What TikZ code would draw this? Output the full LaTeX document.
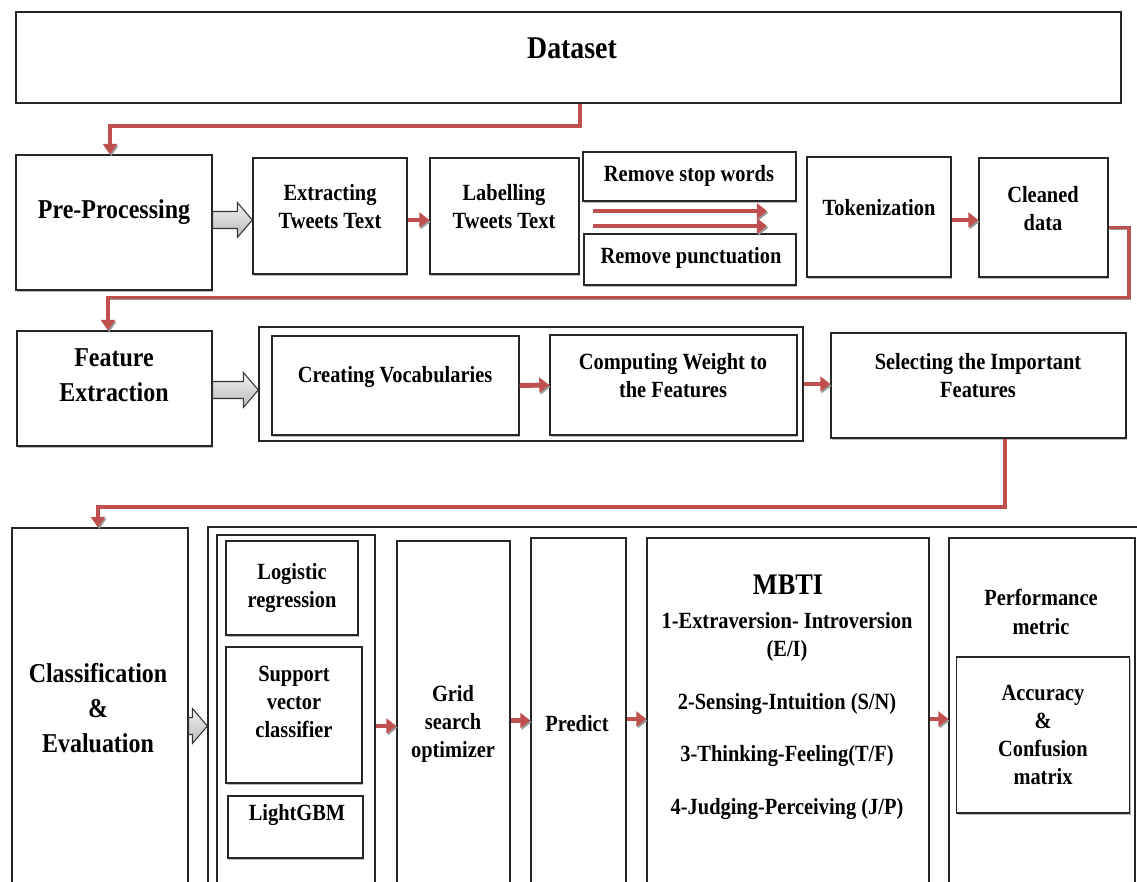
\documentclass[tikz,border=0pt]{standalone}
\usepackage{fontspec}
\setmainfont{Liberation Serif}[FakeStretch=0.88]
\usepackage{tikz}
\usetikzlibrary{arrows.meta,shadows,calc}
\definecolor{flowred}{RGB}{192,80,77}
\tikzset{box style/.style={
		draw=black!85,
		line width=0.8pt,
		fill=white,
		rectangle,
		inner sep=0pt,
		drop shadow={shadow xshift=0.7pt,shadow yshift=-1.4pt,fill=black!45,opacity=0.6},
	},
	group style/.style={
		draw=black!85,
		line width=0.8pt,
		fill=white,
		rectangle,
		inner sep=0pt,
	},
	text style/.style={
		align=center,
		font=\bfseries\fontsize{13.2}{16}\selectfont,
	},
	big style/.style={
		align=center,
		font=\bfseries\fontsize{15.5}{19.8}\selectfont,
	},
	flow style/.style={
		draw=flowred,
		line width=2.2pt,
		-{Triangle[width=8pt,length=6pt]},
		preaction={draw=black!40,transform canvas={xshift=0.7pt,yshift=-1pt}},
	},
	link style/.style={
		flow style,
		line width=2.8pt,
		-{Triangle[width=8.5pt,length=5.7pt]},
	},
	hollow style/.style={
		draw=black!80,
		line width=0.6pt,
		top color=gray!10,
		bottom color=gray!55,
		to path={($(\tikztostart)+(0,-8.5)$) -- ($(\tikztotarget)+(-15,-8.5)$) -- ($(\tikztotarget)+(-15,-17.5)$) -- (\tikztotarget) -- ($(\tikztotarget)+(-15,17.5)$) -- ($(\tikztotarget)+(-15,8.5)$) -- ($(\tikztostart)+(0,8.5)$) -- cycle}
	}
}

\begin{document}
\begin{tikzpicture}[x=0.02cm,y=-0.02cm]
	\useasboundingbox (0,0) rectangle (1137,882);
	\clip (0,0) rectangle (1137,882);

	\node[group style, minimum width=22.1cm, minimum height=1.82cm] (Dataset) at (568.5,57.5) {};
	\node[font=\bfseries\fontsize{18}{22}\selectfont] (DatasetText) at (572,48) {Dataset};

	\node[box style, minimum width=3.92cm, minimum height=2.7cm] (PreProcessing) at (114,222.5) {};
	\node[big style] (PreProcessingText) at (114,212) {Pre-Processing};

	\node[box style, minimum width=3.08cm, minimum height=2.32cm] (Extracting) at (330,216) {};
	\node[text style] (ExtractingText) at (330,207) {Extracting\\Tweets Text};

	\node[box style, minimum width=2.98cm, minimum height=2.32cm] (Labelling) at (504.5,216) {};
	\node[text style] (LabellingText) at (504,207) {Labelling\\Tweets Text};

	\node[box style, minimum width=4.26cm, minimum height=0.98cm] (StopWords) at (689.5,176.5) {};
	\node[text style] (StopWordsText) at (689,176) {Remove stop words};

	\node[box style, minimum width=4.24cm, minimum height=1.02cm] (Punctuation) at (690,259.5) {};
	\node[text style] (PunctuationText) at (691,258) {Remove punctuation};

	\node[box style, minimum width=2.88cm, minimum height=2.4cm] (Tokenization) at (879,217) {};
	\node[text style] (TokenizationText) at (879,208) {Tokenization};

	\node[box style, minimum width=2.58cm, minimum height=2.38cm] (Cleaned) at (1043.5,217.5) {};
	\node[text style] (CleanedText) at (1043,209) {Cleaned\\data};

	\node[box style, minimum width=3.9cm, minimum height=2.3cm] (Feature) at (114.5,388.5) {};
	\node[big style] (FeatureText) at (114,375) {Feature\\Extraction};

	\node[group style, minimum width=10.88cm, minimum height=2.28cm] (FeatureGroup) at (531,384) {};

	\node[box style, minimum width=4.94cm, minimum height=1.98cm] (Vocabularies) at (395.5,385.5) {};
	\node[text style] (VocabulariesText) at (395,377) {Creating Vocabularies};

	\node[box style, minimum width=4.94cm, minimum height=2cm] (Weight) at (673.5,385) {};
	\node[text style] (WeightText) at (673,376) {Computing Weight to\\the Features};

	\node[box style, minimum width=5.9cm, minimum height=2.1cm] (Selecting) at (978.5,385.5) {};
	\node[text style] (SelectingText) at (978,376) {Selecting the Important\\Features};

	\node[group style, minimum width=3.52cm, minimum height=7.44cm] (Classification) at (100,714) {};
	\node[big style] (ClassificationText) at (98,708) {Classification\\\&\\Evaluation};

	\node[group style, minimum width=19.04cm, minimum height=7.46cm] (ClassGroup) at (684,713.5) {};
	\node[group style, minimum width=3.16cm, minimum height=7.3cm] (ModelGroup) at (296,717.5) {};

	\node[box style, minimum width=2.64cm, minimum height=1.88cm] (Logistic) at (292,588) {};
	\node[text style] (LogisticText) at (292,588) {Logistic\\regression};

	\node[box style, minimum width=2.72cm, minimum height=2.72cm] (Support) at (294,715) {};
	\node[text style] (SupportText) at (294,702) {Support\\vector\\classifier};

	\node[box style, minimum width=2.7cm, minimum height=1.24cm] (LightGBM) at (295.5,827) {};
	\node[text style] (LightGBMText) at (297,815) {LightGBM};

	\node[group style, minimum width=2.26cm, minimum height=7.18cm] (Grid) at (453.5,720.5) {};
	\node[text style] (GridText) at (453,724) {Grid\\search\\optimizer};

	\node[group style, minimum width=1.9cm, minimum height=7.24cm] (Predict) at (578.5,719) {};
	\node[text style] (PredictText) at (577,724) {Predict};

	\node[group style, minimum width=5.64cm, minimum height=7.24cm] (MBTI) at (788,719) {};
	\node[font=\bfseries\fontsize{17}{20}\selectfont] (MBTITitle) at (788,585) {MBTI};
	\node[text style] (MBTIText) at (787,716) {1-Extraversion- Introversion\\(E/I)\\[14pt]2-Sensing-Intuition (S/N)\\[14pt]3-Thinking-Feeling(T/F)\\[14pt]4-Judging-Perceiving (J/P)};

	\node[group style, minimum width=3.72cm, minimum height=7.24cm] (Performance) at (1042,719) {};
	\node[text style] (PerformanceText) at (1041,612) {Performance\\metric};

	\node[box style, minimum width=3.46cm, minimum height=3.12cm] (Accuracy) at (1043,735) {};
	\node[text style] (AccuracyText) at (1043,735) {Accuracy\\\&\\Confusion\\matrix};

	\coordinate (Row2) at (0,220);
	\coordinate (Row3) at (0,390);
	\coordinate (Row4) at (0,726);
	\coordinate (SplitTop) at (593,211);
	\coordinate (SplitBottom) at (593,226);
	\coordinate (JoinTop) at (767,211);
	\coordinate (JoinBottom) at (767,226);

	\draw[flow style] ([xshift=0.23cm]Dataset.south) -- ++(0,22) -| ([xshift=-0.08cm]PreProcessing.north);
	\draw[hollow style] (PreProcessing.east |- Row2) to (Extracting.west |- Row2);
	\draw[link style] (Extracting.east |- Row2) -- (Labelling.west |- Row2);
	\draw[link style] (SplitTop) -- (JoinTop);
	\draw[link style] (SplitBottom) -- (JoinBottom);
	\draw[link style] (Tokenization.east |- Row2) -- (Cleaned.west |- Row2);

	\draw[flow style] ([yshift=-0.2cm]Cleaned.east) -- ++(20,0) -- ++(0,70) -| ([xshift=-0.13cm]Feature.north);
	\draw[hollow style] (Feature.east |- Row3) to (FeatureGroup.west |- Row3);
	\draw[link style] (Vocabularies.east) -- (Weight.west);
	\draw[link style] (FeatureGroup.east) -- (Selecting.west |- FeatureGroup.east);

	\draw[flow style] ([xshift=0.53cm]Selecting.south) -- ++(0,68) -| ([xshift=-0.04cm]Classification.north);
	\draw[hollow style] (Classification.east |- Row4) to (ClassGroup.west |- Row4);
	\draw[link style] (ModelGroup.east |- Row4) -- (Grid.west |- Row4);
	\draw[link style] (Grid.east) -- (Predict.west |- Grid.east);
	\draw[link style] (Predict.east) -- (MBTI.west);
	\draw[link style] (MBTI.east) -- (Performance.west);
\end{tikzpicture}
\end{document}
